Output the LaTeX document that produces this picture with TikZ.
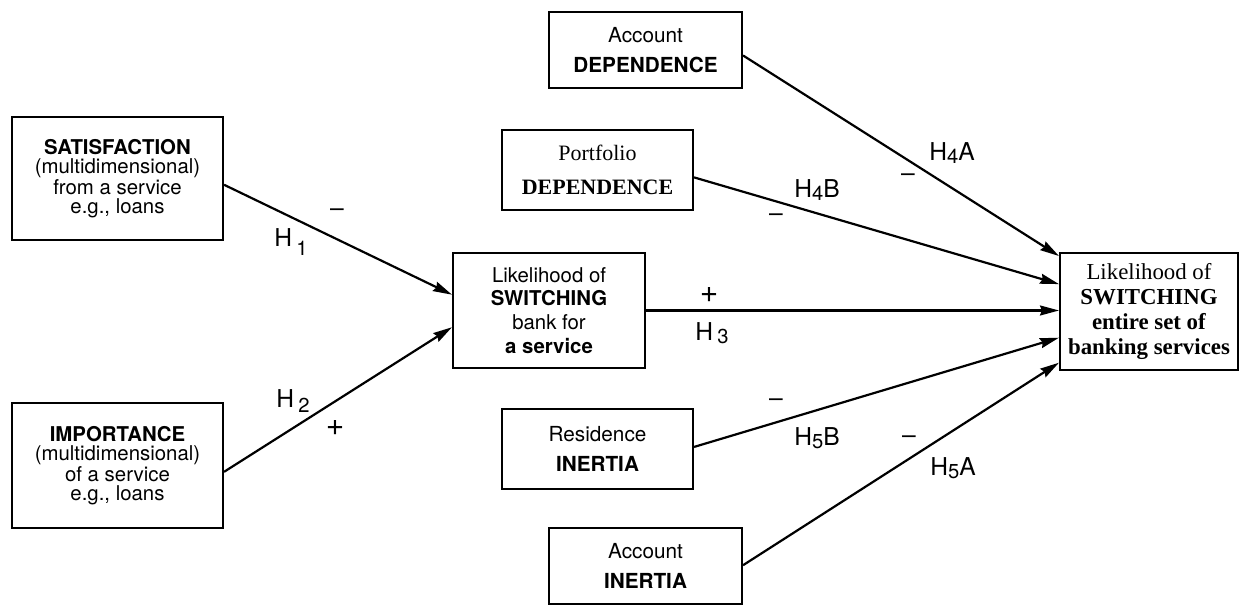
\documentclass[tikz,border=0pt]{standalone}
\usepackage{fontspec}
\setmainfont{TeX Gyre Heros}
\newfontfamily\serifface{Liberation Serif}
\usetikzlibrary{arrows.meta,calc}

% hypothesis label: H with a lowered index
\newcommand{\hyp}[3]{H#3\raisebox{#2}{\fontsize{11.5}{11.5}\selectfont #1}}

\begin{document}
\begin{tikzpicture}[x=0.02cm,y=-0.02cm,
  box/.style={draw, line width=1.2pt, align=center, inner sep=0pt},
  sansA/.style={font=\fontsize{11.6}{10.9}\selectfont},
  sansB/.style={font=\fontsize{11.6}{13.6}\selectfont},
  sansC/.style={font=\fontsize{11.8}{17}\selectfont},
  serifA/.style={font=\serifface\fontsize{12.5}{19}\selectfont},
  serifB/.style={font=\serifface\fontsize{13}{14.2}\selectfont},
  link/.style={line width=1.25pt, -{Stealth[length=0.38cm,width=0.2cm,inset=0.04cm]}},
  lab/.style={font=\fontsize{14}{14}\selectfont, inner sep=0pt},
  plus/.style={font=\fontsize{18}{18}\selectfont, inner sep=0pt}]

\path[use as bounding box] (0,0) rectangle (1250,607);

% boxes
\node[box, sansA, minimum width=4.22cm, minimum height=2.46cm] (sat) at (117.5,178.5)
  {\textbf{SATISFACTION}\\(multidimensional)\\from a service\\e.g., loans};
\node[box, sansA, minimum width=4.22cm, minimum height=2.50cm] (imp) at (117.5,465.5)
  {\textbf{IMPORTANCE}\\(multidimensional)\\of a service\\e.g., loans};
\node[box, sansB, minimum width=3.84cm, minimum height=2.30cm] (cen) at (549,310.5)
  {Likelihood of\\\textbf{SWITCHING}\\bank for\\\textbf{a service}};
\node[box, serifB, minimum width=3.56cm, minimum height=2.34cm] (rgt) at (1149,311.5)
  {Likelihood of\\\textbf{SWITCHING}\\\textbf{entire set of}\\\textbf{banking services}};
\node[box, sansC, minimum width=3.86cm, minimum height=1.52cm] (adep) at (645.5,50)
  {Account\\\textbf{DEPENDENCE}};
\node[box, serifA, minimum width=3.82cm, minimum height=1.60cm] (pdep) at (597.5,170)
  {Portfolio\\\textbf{DEPENDENCE}};
\node[box, sansC, minimum width=3.82cm, minimum height=1.60cm] (rin) at (597.5,449)
  {Residence\\\textbf{INERTIA}};
\node[box, sansC, minimum width=3.86cm, minimum height=1.52cm] (ain) at (645.5,566)
  {Account\\\textbf{INERTIA}};

% connectors
\draw[link] ($(sat.north east)!0.55!(sat.south east)$) -- ($(cen.north west)!0.365!(cen.south west)$);
\draw[link] ($(imp.north east)!0.55!(imp.south east)$) -- ($(cen.north west)!0.643!(cen.south west)$);
\draw[link] (cen.east) -- (cen.east -| rgt.west);
\draw[link] ($(adep.north east)!0.57!(adep.south east)$) -- ($(rgt.north west)!0.034!(rgt.south west)$);
\draw[link] ($(pdep.north east)!0.59!(pdep.south east)$) -- ($(rgt.north west)!0.27!(rgt.south west)$);
\draw[link] ($(rin.north east)!0.475!(rin.south east)$) -- ($(rgt.north west)!0.72!(rgt.south west)$);
\draw[link] ($(ain.north east)!0.49!(ain.south east)$) -- ($(rgt.north west)!0.93!(rgt.south west)$);

% signs and hypothesis labels
\node[lab] (s1) at (337,213) {–};
\node[lab] (h1) at (291,242) {\hyp{1}{-5pt}{\,}};
\node[lab] (h2) at (293,401) {\hyp{2}{-3pt}{\,}};
\node[plus] (s2) at (335,428) {+};
\node[plus] (s3) at (709,295) {+};
\node[lab] (h3) at (712,333) {\hyp{3}{-2pt}{\,}};
\node[lab] (h4a) at (952,153) {\hyp{4}{-2pt}{}A};
\node[lab] (s4a) at (908,178) {–};
\node[lab] (h4b) at (817,190) {\hyp{4}{-2pt}{}B};
\node[lab] (s4b) at (776,218) {–};
\node[lab] (s5b) at (776,403) {–};
\node[lab] (h5b) at (817,438) {\hyp{5}{-2pt}{}B};
\node[lab] (s5a) at (909,440) {–};
\node[lab] (h5a) at (953,468) {\hyp{5}{-2pt}{}A};
\end{tikzpicture}
\end{document}
